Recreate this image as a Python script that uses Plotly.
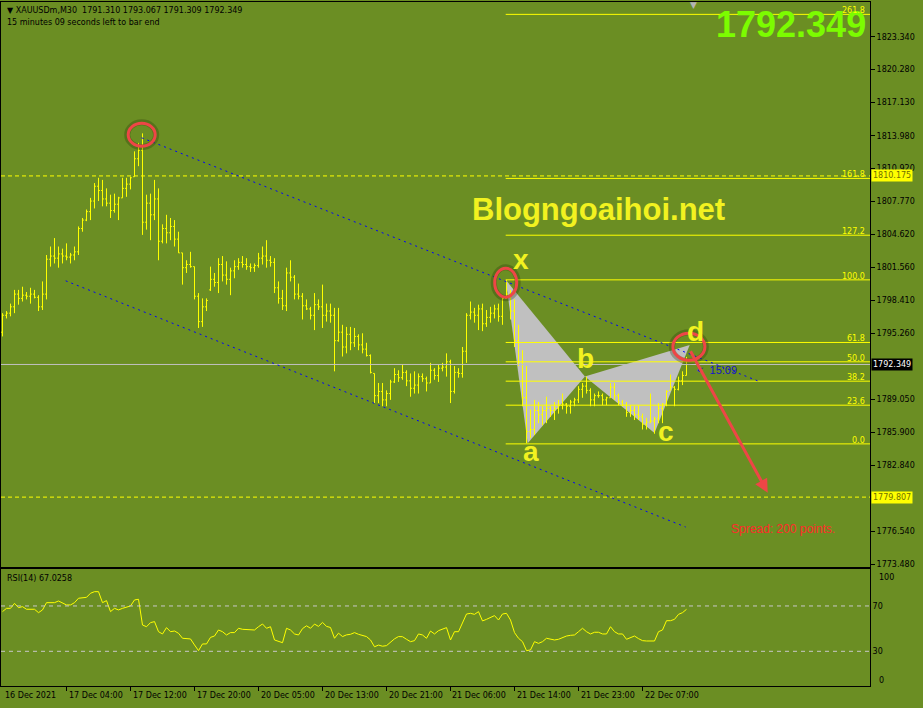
import plotly.graph_objects as go

# XAUUSDm M30 bars, bar 0 = 16 Dec 2021 (last bar is 22 Dec)
bar_open = [
    1795.4, 1797.0, 1797.2, 1797.8, 1799.0, 1798.6, 1798.9, 1798.8, 1799.0, 1798.7,
    1797.8, 1799.0, 1802.3, 1802.6, 1802.4, 1802.8, 1802.6, 1802.5, 1802.7, 1803.0,
    1805.2, 1806.0, 1806.8, 1807.8, 1809.2, 1808.8, 1808.0, 1807.6, 1806.9, 1807.5,
    1808.1, 1809.0, 1809.4, 1810.1, 1811.8, 1812.6, 1805.8, 1807.6, 1806.5, 1808.0,
    1804.0, 1805.2, 1804.8, 1805.4, 1804.2, 1802.9, 1801.5, 1801.8, 1801.6, 1798.8,
    1796.4, 1797.8, 1799.4, 1800.4, 1800.1, 1801.8, 1800.8, 1800.4, 1801.2, 1801.6,
    1802.0, 1801.8, 1801.6, 1801.5, 1801.7, 1802.4, 1802.6, 1802.2, 1802.0, 1799.6,
    1798.6, 1797.9, 1801.0, 1800.6, 1799.0, 1798.8, 1797.9, 1797.6, 1797.0, 1798.0,
    1797.8, 1797.0, 1797.4, 1797.0, 1794.6, 1795.4, 1794.0, 1795.2, 1794.4, 1795.0,
    1794.2, 1793.8, 1793.2, 1791.5, 1789.4, 1789.8, 1789.0, 1789.6, 1790.7, 1791.4,
    1791.1, 1791.6, 1790.8, 1790.1, 1790.4, 1791.2, 1791.0, 1790.6, 1791.8, 1791.3,
    1792.0, 1792.1, 1792.6, 1789.8, 1791.6, 1791.5, 1793.6, 1797.0, 1797.3, 1797.0,
    1797.6, 1796.2, 1796.8, 1797.2, 1797.6, 1796.9, 1798.6, 1799.0, 1797.4, 1794.6,
    1792.6, 1789.2, 1786.0, 1786.2, 1788.0, 1787.6, 1788.0, 1788.2, 1788.0, 1788.2,
    1788.5, 1788.6, 1788.4, 1788.8, 1789.0, 1790.0, 1790.3, 1789.9, 1789.0, 1789.4,
    1789.4, 1789.0, 1789.2, 1790.2, 1789.4, 1788.8, 1788.5, 1787.8, 1788.0, 1787.6,
    1787.4, 1786.7, 1786.9, 1787.0, 1787.2, 1788.2, 1788.6, 1789.9, 1790.2, 1790.0,
    1790.8, 1791.310,
]
bar_high = [
    1797.2, 1797.4, 1798.1, 1799.4, 1799.4, 1799.7, 1799.2, 1799.6, 1799.4, 1798.9,
    1800.2, 1802.7, 1803.5, 1804.3, 1803.5, 1803.3, 1803.8, 1802.9, 1803.5, 1805.4,
    1806.2, 1807.0, 1808.1, 1809.5, 1810.0, 1809.8, 1809.0, 1808.4, 1808.5, 1808.2,
    1810.0, 1810.0, 1810.1, 1812.5, 1813.3, 1814.2, 1808.4, 1808.5, 1809.8, 1809.0,
    1805.6, 1806.5, 1806.2, 1806.0, 1804.9, 1802.9, 1802.2, 1803.0, 1801.6, 1799.1,
    1798.6, 1798.6, 1801.6, 1801.0, 1802.4, 1802.6, 1802.1, 1801.5, 1802.2, 1802.4,
    1802.6, 1802.4, 1801.9, 1801.9, 1802.9, 1803.5, 1804.1, 1802.6, 1802.4, 1800.2,
    1799.4, 1801.5, 1802.2, 1800.8, 1800.0, 1799.1, 1798.5, 1797.8, 1799.1, 1798.5,
    1799.9, 1798.1, 1798.1, 1797.7, 1797.7, 1796.1, 1795.9, 1795.9, 1795.8, 1795.2,
    1795.3, 1794.4, 1793.3, 1791.5, 1790.6, 1790.6, 1789.9, 1790.9, 1792.0, 1791.8,
    1792.3, 1791.8, 1791.5, 1791.7, 1791.5, 1791.5, 1791.2, 1792.5, 1792.0, 1792.3,
    1792.5, 1793.4, 1792.8, 1792.2, 1792.0, 1794.0, 1797.2, 1798.3, 1797.7, 1798.0,
    1798.1, 1797.5, 1797.8, 1798.0, 1798.1, 1798.8, 1800.35, 1799.4, 1798.5, 1796.1,
    1793.7, 1792.2, 1788.1, 1789.0, 1788.8, 1788.4, 1789.3, 1788.4, 1788.8, 1789.0,
    1789.6, 1788.7, 1789.0, 1789.2, 1790.3, 1790.6, 1791.2, 1790.1, 1789.6, 1789.8,
    1789.6, 1789.3, 1790.6, 1790.6, 1789.6, 1789.0, 1788.8, 1788.5, 1788.4, 1788.5,
    1787.7, 1787.3, 1789.6, 1787.4, 1788.7, 1788.7, 1789.9, 1791.4, 1790.3, 1791.2,
    1791.7, 1793.067,
]
bar_low = [
    1795.0, 1796.7, 1796.9, 1797.2, 1798.0, 1798.3, 1798.5, 1798.1, 1798.6, 1797.4,
    1797.5, 1798.5, 1801.6, 1801.9, 1801.5, 1801.9, 1802.2, 1801.9, 1802.2, 1802.7,
    1804.9, 1805.9, 1806.0, 1807.1, 1807.8, 1807.3, 1807.3, 1806.2, 1806.7, 1806.0,
    1808.1, 1808.2, 1808.9, 1810.1, 1811.1, 1804.6, 1805.1, 1804.1, 1806.0, 1802.2,
    1803.8, 1803.8, 1804.1, 1803.5, 1802.9, 1799.9, 1801.0, 1801.5, 1798.5, 1795.8,
    1795.9, 1797.4, 1799.3, 1799.7, 1799.1, 1800.2, 1799.9, 1798.9, 1800.5, 1801.3,
    1801.5, 1801.3, 1801.1, 1801.1, 1801.5, 1801.8, 1801.5, 1801.6, 1799.1, 1798.1,
    1797.5, 1797.4, 1800.2, 1798.5, 1798.5, 1796.6, 1797.5, 1796.6, 1795.6, 1797.5,
    1795.8, 1796.4, 1796.3, 1791.7, 1794.5, 1793.1, 1793.4, 1793.7, 1794.0, 1793.7,
    1793.4, 1793.1, 1791.5, 1788.7, 1788.7, 1788.4, 1788.4, 1789.0, 1790.6, 1790.7,
    1790.9, 1790.3, 1789.3, 1789.6, 1789.6, 1790.7, 1789.8, 1790.6, 1790.9, 1790.7,
    1791.7, 1791.2, 1788.7, 1789.6, 1791.1, 1791.1, 1792.5, 1796.6, 1796.3, 1795.6,
    1795.5, 1795.9, 1796.3, 1796.7, 1796.4, 1796.1, 1798.6, 1796.6, 1794.0, 1792.2,
    1788.4, 1784.9, 1785.4, 1785.7, 1786.8, 1786.6, 1786.8, 1787.4, 1787.1, 1787.7,
    1788.1, 1787.7, 1787.7, 1788.4, 1788.7, 1789.2, 1789.6, 1788.4, 1788.4, 1789.2,
    1788.5, 1788.5, 1789.2, 1789.0, 1788.5, 1788.4, 1787.4, 1787.4, 1787.1, 1787.1,
    1786.2, 1786.2, 1786.8, 1785.8, 1786.8, 1786.8, 1788.4, 1789.9, 1788.4, 1789.9,
    1790.4, 1791.309,
]
bar_close = [
    1797.0, 1797.2, 1797.8, 1799.0, 1798.6, 1798.9, 1798.8, 1799.0, 1798.7, 1797.8,
    1799.0, 1802.3, 1802.6, 1802.4, 1802.8, 1802.6, 1802.5, 1802.7, 1803.0, 1805.2,
    1806.0, 1806.8, 1807.8, 1809.2, 1808.8, 1808.0, 1807.6, 1806.9, 1807.5, 1808.1,
    1809.0, 1809.4, 1810.0, 1811.8, 1812.6, 1805.8, 1807.6, 1806.5, 1808.0, 1804.0,
    1805.2, 1804.8, 1805.4, 1804.2, 1802.9, 1801.5, 1801.8, 1801.6, 1798.8, 1796.4,
    1797.8, 1798.4, 1800.4, 1800.1, 1801.8, 1800.8, 1800.4, 1801.2, 1801.6, 1802.0,
    1801.8, 1801.6, 1801.5, 1801.7, 1802.4, 1802.6, 1802.2, 1802.0, 1799.6, 1798.6,
    1797.9, 1801.0, 1800.6, 1799.0, 1798.8, 1797.9, 1797.6, 1797.0, 1798.0, 1797.8,
    1797.0, 1797.4, 1797.0, 1794.6, 1795.4, 1794.0, 1795.2, 1794.4, 1795.0, 1794.2,
    1793.8, 1793.2, 1791.6, 1789.4, 1789.8, 1789.0, 1789.6, 1790.7, 1791.4, 1791.1,
    1791.6, 1790.8, 1790.1, 1790.4, 1791.2, 1791.0, 1790.6, 1791.8, 1791.3, 1792.0,
    1792.1, 1792.6, 1789.8, 1791.6, 1791.5, 1793.6, 1797.0, 1797.3, 1797.0, 1797.6,
    1796.2, 1796.8, 1797.2, 1797.6, 1796.9, 1798.6, 1799.0, 1797.4, 1794.6, 1792.6,
    1789.2, 1786.0, 1786.2, 1788.0, 1787.6, 1788.0, 1788.2, 1788.0, 1788.2, 1788.5,
    1788.6, 1788.4, 1788.8, 1789.0, 1790.0, 1790.3, 1789.9, 1789.0, 1789.4, 1789.4,
    1789.0, 1789.2, 1790.2, 1789.4, 1788.8, 1788.5, 1787.8, 1788.0, 1787.6, 1787.4,
    1786.7, 1786.9, 1787.0, 1787.2, 1788.2, 1788.6, 1789.8, 1790.2, 1790.0, 1790.8,
    1791.31, 1792.349,
]
rsi_values = [
    65.0, 67.9, 67.9, 72.3, 68.5, 69.4, 67.1, 67.1, 67.1, 64.1,
    66.5, 72.9, 72.9, 72.9, 74.4, 72.9, 70.9, 70.9, 72.9, 76.8,
    77.3, 77.6, 81.2, 82.6, 82.6, 72.9, 74.7, 65.0, 67.9, 66.5,
    67.9, 68.8, 70.0, 75.3, 75.9, 53.2, 51.7, 55.3, 56.2, 47.3,
    45.3, 50.9, 47.3, 47.9, 45.9, 41.5, 41.5, 40.9, 35.6, 30.6,
    36.5, 36.5, 42.3, 43.5, 48.8, 47.3, 44.4, 46.5, 46.5, 50.3,
    49.4, 49.4, 49.4, 48.8, 51.7, 54.1, 50.3, 51.7, 40.0, 38.5,
    37.6, 50.3, 48.8, 45.3, 44.4, 50.0, 52.5, 50.3, 54.0, 52.0,
    55.5, 52.0, 51.0, 41.5, 46.0, 43.0, 44.5, 45.0, 46.5, 45.0,
    44.0, 43.0, 40.0, 34.0, 35.5, 34.5, 35.0, 38.0, 41.0, 43.0,
    42.9, 40.6, 38.5, 39.4, 45.3, 44.4, 41.5, 47.9, 45.3, 48.2,
    49.4, 50.9, 40.0, 47.3, 47.3, 54.7, 62.9, 63.5, 62.6, 65.0,
    56.8, 58.2, 60.0, 61.5, 57.6, 62.9, 63.5, 57.6, 46.5, 41.5,
    38.5, 30.6, 31.2, 38.5, 37.0, 38.5, 41.5, 40.6, 40.0, 40.6,
    42.3, 43.5, 44.1, 44.4, 47.3, 50.3, 47.3, 45.3, 46.8, 46.8,
    45.3, 45.3, 51.7, 47.3, 45.3, 45.3, 40.6, 42.0, 43.5, 41.2,
    39.4, 39.1, 39.1, 39.1, 47.3, 48.8, 57.0, 57.0, 58.2, 62.6,
    64.1, 67.0258,
]
bar_index = list(range(len(bar_close)))

time_tick_bars = [0, 16, 32, 48, 64, 80, 96, 112, 128, 144, 160]
time_tick_labels = ["16 Dec 2021", "17 Dec 04:00", "17 Dec 12:00", "17 Dec 20:00",
                    "20 Dec 05:00", "20 Dec 13:00", "20 Dec 21:00", "21 Dec 06:00",
                    "21 Dec 14:00", "21 Dec 23:00", "22 Dec 07:00"]
price_ticks = [1773.48, 1776.54, 1782.84, 1785.90, 1789.05, 1795.26, 1798.41,
               1801.56, 1804.62, 1807.77, 1810.92, 1813.98, 1817.13, 1820.28, 1823.34]

fib_labels = ["0.0", "23.6", "38.2", "50.0", "61.8", "100.0", "127.2", "161.8", "261.8"]
fib_prices = [1784.84, 1788.50, 1790.77, 1792.60, 1794.43, 1800.35, 1804.57, 1809.94, 1825.45]
fib_start_bar = 125.8

level_prices = [1810.175, 1779.807]
bid_price = 1792.349
header_ohlc = "1791.310 1793.067 1791.309 1792.349"

# harmonic pattern points x, a, b, c, d
pattern_bars = [125.8, 131.3, 145.6, 163.0, 171.8]
pattern_prices = [1800.35, 1784.9, 1791.2, 1785.87, 1794.2]

channel_upper = ([34.8, 188.8], [1813.78, 1790.8])
channel_lower = ([15.8, 170.8], [1800.26, 1776.98])

circle_bars = [34.8, 125.8, 171.6]
circle_prices = [1814.07, 1800.08, 1794.03]
arrow_from = (171.8, 1793.74)
arrow_to = (191.3, 1780.22)

# ---- styling ----
BG = "#6B8E23"
YEL = "#FFFF00"
RED = "#EE4646"
FONT = "DejaVu Sans"
W, H = 923, 708
ML, MR, MT, MB = 1, 53, 2, 22
PW, PH = W - ML - MR, H - MT - MB


def px(x):
    return (x - ML) / PW


def py(y):
    return (MT + PH - y) / PH


x_range = [-0.375, -0.375 + PW / 4]

fig = go.Figure()
fig.add_trace(go.Ohlc(
    x=bar_index, open=bar_open, high=bar_high, low=bar_low, close=bar_close,
    increasing_line_color=YEL, decreasing_line_color=YEL, line_width=1,
    tickwidth=0.35, hoverinfo="skip", xaxis="x", yaxis="y"))
fig.add_trace(go.Scatter(
    x=bar_index, y=rsi_values, mode="lines", line=dict(color=YEL, width=1),
    hoverinfo="skip", xaxis="x2", yaxis="y2"))

shapes = []
# pattern triangles x-a-b and b-c-d
for i0 in (0, 2):
    pts = list(zip(pattern_bars[i0:i0 + 3], pattern_prices[i0:i0 + 3]))
    path = "M {},{} L {},{} L {},{} Z".format(*[v for p in pts for v in p])
    shapes.append(dict(type="path", path=path, xref="x", yref="y", layer="below",
                       fillcolor="#C0C0C0", line=dict(width=0)))
# dashed levels and bid line
for p in level_prices:
    shapes.append(dict(type="line", xref="paper", yref="y", x0=0, x1=1, y0=p, y1=p,
                       line=dict(color=YEL, width=1, dash="4px,3px")))
shapes.append(dict(type="line", xref="paper", yref="y", x0=0, x1=1, y0=bid_price,
                   y1=bid_price, line=dict(color="#C0C0C0", width=1)))
# fibo lines
for p in fib_prices:
    shapes.append(dict(type="line", xref="x", yref="y", x0=fib_start_bar, x1=x_range[1],
                       y0=p, y1=p, line=dict(color=YEL, width=1)))
# channel
for bx, by in (channel_upper, channel_lower):
    shapes.append(dict(type="line", xref="x", yref="y", x0=bx[0], x1=bx[1], y0=by[0], y1=by[1],
                       line=dict(color="#0000FF", width=1, dash="2px,4px")))
# rsi levels
for lv in (30, 70):
    shapes.append(dict(type="line", xref="paper", yref="y2", x0=0, x1=1, y0=lv, y1=lv,
                       line=dict(color="#C8C8C8", width=1, dash="4px,4px")))
# red circles
circle_sizes = [(27, 23), (22, 29), (32, 27)]
for (cx, cy), (w, h) in zip(zip(circle_bars, circle_prices), circle_sizes):
    for lw, col, grow in ((6, "rgba(40,50,10,0.3)", 2), (3, RED, 0)):
        shapes.append(dict(type="circle", xref="x", yref="y", xsizemode="pixel", ysizemode="pixel",
                           xanchor=cx, yanchor=cy, x0=-(w + grow) / 2, x1=(w + grow) / 2,
                           y0=-(h + grow) / 2, y1=(h + grow) / 2, line=dict(color=col, width=lw)))

ann = []


def text(x, y, s, size=8, color="black", xa="left", family=FONT, bold=False, ya="middle", **kw):
    if bold:
        s = "<b>" + s + "</b>"
    ann.append(dict(x=px(x), y=py(y), xref="paper", yref="paper", text=s, showarrow=False,
                    xanchor=xa, yanchor=ya, font=dict(family=family, size=size, color=color), **kw))


text(5, 10, "▼ XAUUSDm,M30  " + header_ohlc)
text(5, 23, "15 minutes 09 seconds left to bar end")
text(5, 578, "RSI(14) " + str(rsi_values[-1]))
text(868, 25, str(bid_price), size=36, color="#7CFC00", xa="right", family="Liberation Sans", bold=True)
text(598, 209, "Blogngoaihoi.net", size=31, color="#F2F220", xa="center", family="Liberation Sans", bold=True)
for lab, (x, y) in zip(["x", "a", "b", "c", "d"],
                       [(521, 259), (531, 451), (585, 359), (666, 431), (695, 331)]):
    text(x, y, lab, size=28, color="#F2F220", xa="center", family="Liberation Sans", bold=True)
text(783, 529, "Spread: 200 points.", size=12, color="#FF2A2A", xa="center", family="Liberation Sans")
text(695, 370, "&lt;  15:09", size=11, color="#1414C8", family="Liberation Sans")
text(693, 5, "▼", size=9, color="#B4B4B4", xa="center")
text(877, 577, "100")
text(877, 680, "0")

for lab, p in zip(fib_labels, fib_prices):
    ann.append(dict(x=px(867), y=p, xref="paper", yref="y", text=lab, showarrow=False,
                    xanchor="right", yanchor="bottom", yshift=-3,
                    font=dict(family=FONT, size=8, color=YEL)))

for p, bg, fg in ((level_prices[0], YEL, "#707000"), (level_prices[1], YEL, "#707000"),
                  (bid_price, "black", "white")):
    ann.append(dict(x=1, y=p, xref="paper", yref="y", text=f"{p:.3f}", showarrow=False,
                    xanchor="left", yanchor="middle", xshift=1, bgcolor=bg, borderpad=1,
                    font=dict(family=FONT, size=8, color=fg)))

# time labels, left-aligned at their tick like MT4 does
for b, lab in zip(time_tick_bars, time_tick_labels):
    ann.append(dict(x=px(2.5 + 4 * b), y=0, xref="paper", yref="paper", yshift=-9, text=lab,
                    showarrow=False, xanchor="left", yanchor="middle",
                    font=dict(family=FONT, size=8, color="black")))

ann.append(dict(x=arrow_to[0], y=arrow_to[1], ax=arrow_from[0], ay=arrow_from[1],
                xref="x", yref="y", axref="x", ayref="y", text="", showarrow=True,
                arrowhead=2, arrowsize=0.9, arrowwidth=3, arrowcolor=RED, standoff=0))

axis_common = dict(showgrid=False, zeroline=False, showline=True, linecolor="black",
                   linewidth=1, mirror=True)
fig.update_layout(
    width=W, height=H, margin=dict(l=ML, r=MR, t=MT, b=MB, autoexpand=False),
    paper_bgcolor=BG, plot_bgcolor=BG, showlegend=False,
    shapes=shapes, annotations=ann,
    xaxis=dict(domain=[0, 1], range=x_range, anchor="y", showticklabels=False, ticks="",
               rangeslider=dict(visible=False), **axis_common),
    yaxis=dict(domain=[(686 - 567) / PH, 1], range=[1773.20, 1826.62], side="right",
               anchor="x", tickvals=price_ticks, ticktext=[f"{v:.3f}" for v in price_ticks],
               ticks="outside", ticklen=4, tickcolor="black",
               tickfont=dict(family=FONT, size=8, color="black"), **axis_common),
    xaxis2=dict(domain=[0, 1], range=x_range, anchor="y2", tickvals=time_tick_bars[1:],
                showticklabels=False, ticks="outside", ticklen=4, tickcolor="black", **axis_common),
    yaxis2=dict(domain=[0, (686 - 569) / PH], range=[-0.6, 102.6], side="right", anchor="x2",
                tickvals=[30, 70], ticks="", tickfont=dict(family=FONT, size=8, color="black"),
                **axis_common),
)

fig.write_html("out.html", config={"displayModeBar": False},
               post_script="document.body.style.margin='0px';")
